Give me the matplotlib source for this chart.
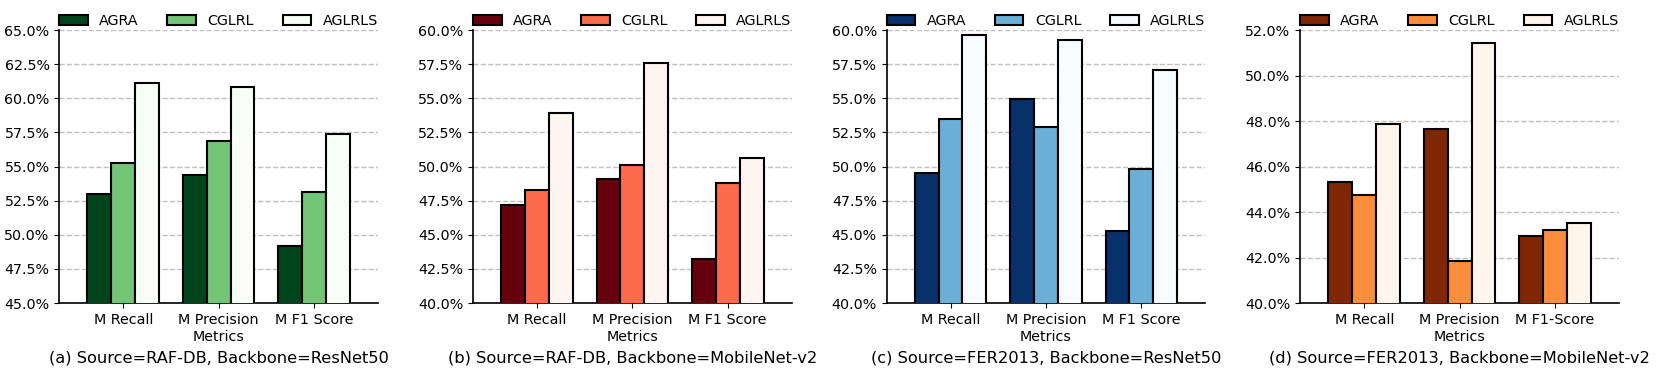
import numpy as np
import matplotlib
matplotlib.use("Agg")
import matplotlib.pyplot as plt
from matplotlib.ticker import FuncFormatter

methods = ["AGRA", "CGLRL", "AGLRLS"]
metrics_abc = ["M Recall", "M Precision", "M F1 Score"]
metrics_d = ["M Recall", "M Precision", "M F1-Score"]

# values in %, rows = methods, cols = metrics
vals_a = [[53.02, 54.41, 49.15],
          [55.27, 56.85, 53.17],
          [61.10, 60.80, 57.41]]
vals_b = [[47.15, 49.07, 43.24],
          [48.27, 50.10, 48.80],
          [53.95, 57.61, 50.61]]
vals_c = [[49.51, 54.95, 45.29],
          [53.49, 52.90, 49.85],
          [59.63, 59.24, 57.07]]
vals_d = [[45.34, 47.65, 42.94],
          [44.74, 41.83, 43.22],
          [47.87, 51.43, 43.50]]

captions = ["(a) Source=RAF-DB, Backbone=ResNet50",
            "(b) Source=RAF-DB, Backbone=MobileNet-v2",
            "(c) Source=FER2013, Backbone=ResNet50",
            "(d) Source=FER2013, Backbone=MobileNet-v2"]

palettes = [["#00441b", "#74c476", "#f7fcf5"],
            ["#67000d", "#fb6a4a", "#fff5f0"],
            ["#08306b", "#6baed6", "#f7fbff"],
            ["#7f2704", "#fd8d3c", "#fff5eb"]]

ylims = [(45, 65, 2.5), (40, 60, 2.5), (40, 60, 2.5), (40, 52, 2.0)]

fig, axes = plt.subplots(1, 4, figsize=(16.61, 3.71), dpi=100)
fig.subplots_adjust(left=0.0357, right=0.9747, bottom=0.183, top=0.919, wspace=0.298)

width = 0.25
x = np.arange(3)
panels = [vals_a, vals_b, vals_c, vals_d]
for i, ax in enumerate(axes):
    vals = panels[i]
    for j, m in enumerate(methods):
        ax.bar(x + (j - 1) * width, vals[j], width, color=palettes[i][j],
               edgecolor="black", linewidth=1.5, label=m, zorder=3)
    lo, hi, step = ylims[i]
    ax.set_ylim(lo, hi)
    ax.set_yticks(np.arange(lo, hi + 0.01, step))
    ax.yaxis.set_major_formatter(FuncFormatter(lambda v, p: f"{v:.1f}%"))
    ax.set_xlim(-0.67, 2.67)
    ax.set_xticks(x)
    ax.set_xticklabels(metrics_d if i == 3 else metrics_abc)
    ax.tick_params(labelsize=10.3)
    ax.set_xlabel("Metrics", fontsize=10.3, labelpad=2)
    ax.yaxis.grid(True, linestyle="--", color="gray", alpha=0.5, linewidth=1)
    ax.set_axisbelow(True)
    for s in ["top", "right"]:
        ax.spines[s].set_visible(False)
    for s in ["left", "bottom"]:
        ax.spines[s].set_linewidth(1.2)
    ax.legend(loc="lower center", bbox_to_anchor=(0.5, 0.985), ncol=3,
              frameon=False, fontsize=10.3, borderaxespad=0)
    ax.text(0.5, -0.2, captions[i], transform=ax.transAxes, ha="center",
            va="center", fontsize=11.7)

fig.savefig("out.png", dpi=100)
